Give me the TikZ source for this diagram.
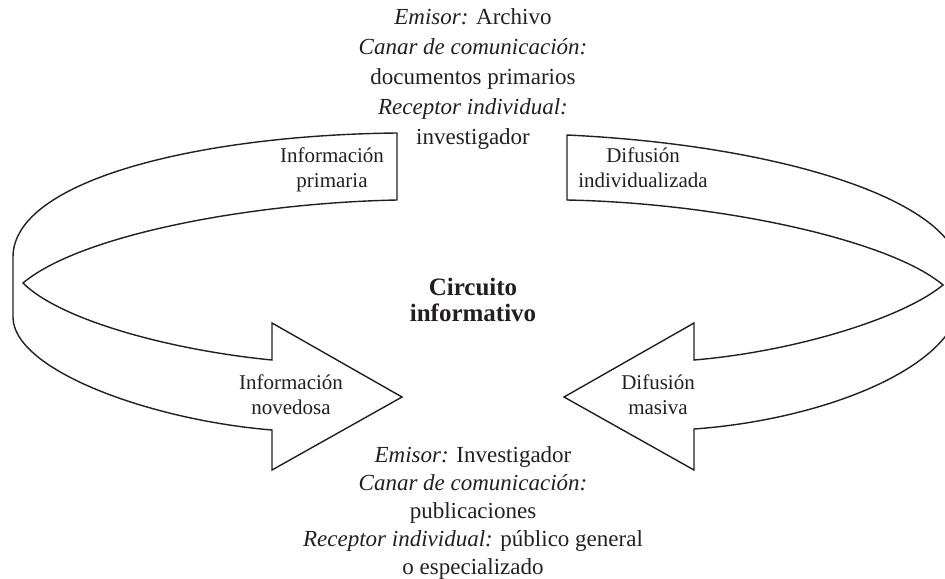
\documentclass[tikz,border=0pt]{standalone}
\usepackage{fontspec}
\setmainfont{Liberation Serif}
\usetikzlibrary{positioning}
\definecolor{tinta}{HTML}{231f20}

\begin{document}
\begin{tikzpicture}[x=0.5pt, y=-0.5pt,
    cinta/.style={draw=tinta, line width=0.7pt, fill=white, line join=miter},
    bloque/.style={align=center, text=tinta, font=\fontsize{11.5}{15}\selectfont},
    rotulo/.style={align=center, text=tinta, font=\fontsize{10.5}{12.5}\selectfont},
    titulo/.style={align=center, text=tinta, font=\fontsize{12.5}{13}\selectfont\bfseries}]
  \clip (0,0) rectangle (945,578);
  % cinta izquierda
  \draw[cinta] (397,133) .. controls (200,135) and (13,180) .. (13,257) -- (13,317)
    .. controls (13,370) and (150,420) .. (272,430) -- (272,470) -- (402,397)
    -- (272,323) -- (272,360)
    .. controls (170,350) and (60,320) .. (23,283)
    .. controls (80,235) and (250,203) .. (397,200) -- cycle;
  % cinta derecha
  \draw[cinta] (567,135) .. controls (780,145) and (955,200) .. (960,270) -- (960,305)
    .. controls (950,370) and (820,420) .. (694,429) -- (694,470) -- (564,397)
    -- (694,323) -- (694,360)
    .. controls (790,352) and (900,320) .. (943,285)
    .. controls (890,240) and (720,203) .. (567,200) -- cycle;
  % textos
  \node[bloque] (archivo) at (473,79) {\textit{Emisor:} Archivo\\
    \textit{Canar de comunicación:}\\ documentos primarios\\
    \textit{Receptor individual:}\\ investigador};
  \node[bloque, font=\fontsize{11.5}{14}\selectfont] (investigador) at (473,513)
    {\textit{Emisor:} Investigador\\ \textit{Canar de comunicación:}\\ publicaciones\\
    \textit{Receptor individual:} público general\\ o especializado};
  \node[titulo] (circuito) at (473,300) {Circuito\\ informativo};
  \node[rotulo] (primaria) at (332,170) {Información\\ primaria};
  \node[rotulo] (individual) at (643,168) {Difusión\\ individualizada};
  \node[rotulo] (novedosa) at (291,395) {Información\\ novedosa};
  \node[rotulo] (masiva) at (658,395) {Difusión\\ masiva};
\end{tikzpicture}
\end{document}
